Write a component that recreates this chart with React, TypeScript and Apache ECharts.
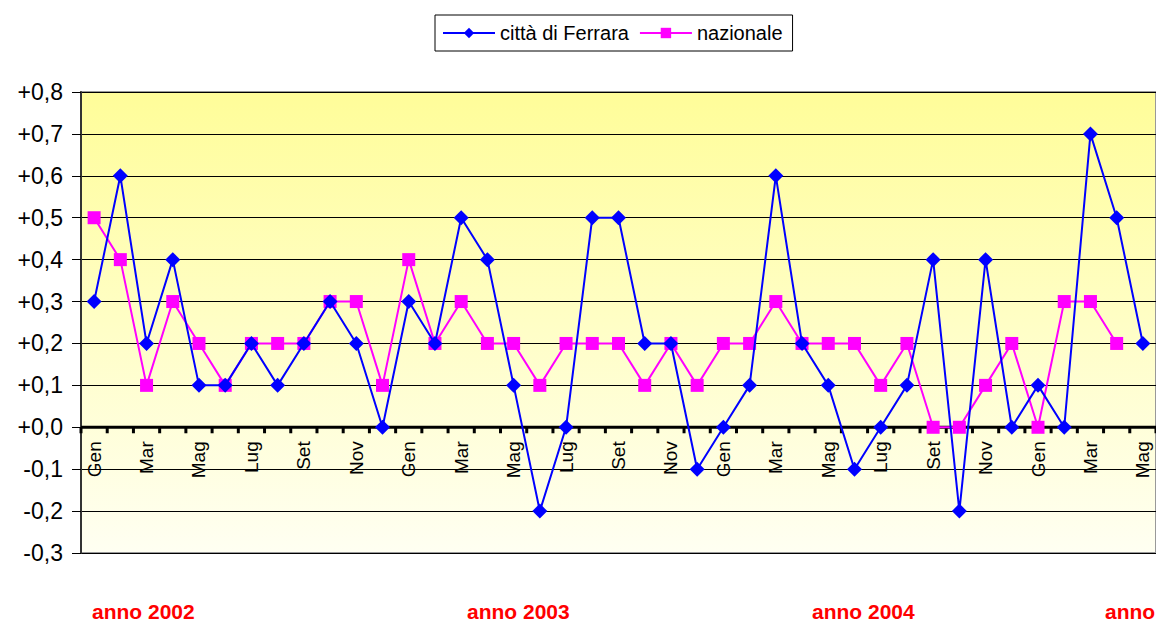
import React, { useEffect, useRef } from "react";
import * as echarts from "echarts";

const MONTHS = ["Gen", "Feb", "Mar", "Apr", "Mag", "Giu", "Lug", "Ago", "Set", "Ott", "Nov", "Dic"];
const YEARS = ["2002", "2003", "2004", "2005"];
const N_POINTS = 41;
const categories: string[] = [];
for (const y of YEARS) for (const m of MONTHS) categories.push(m);
const CATS = categories.slice(0, N_POINTS);

const FERRARA = [
  0.3, 0.6, 0.2, 0.4, 0.1, 0.1, 0.2, 0.1, 0.2, 0.3, 0.2, 0.0,
  0.3, 0.2, 0.5, 0.4, 0.1, -0.2, 0.0, 0.5, 0.5, 0.2, 0.2, -0.1,
  0.0, 0.1, 0.6, 0.2, 0.1, -0.1, 0.0, 0.1, 0.4, -0.2, 0.4, 0.0,
  0.1, 0.0, 0.7, 0.5, 0.2,
];
const NAZIONALE = [
  0.5, 0.4, 0.1, 0.3, 0.2, 0.1, 0.2, 0.2, 0.2, 0.3, 0.3, 0.1,
  0.4, 0.2, 0.3, 0.2, 0.2, 0.1, 0.2, 0.2, 0.2, 0.1, 0.2, 0.1,
  0.2, 0.2, 0.3, 0.2, 0.2, 0.2, 0.1, 0.2, 0.0, 0.0, 0.1, 0.2,
  0.0, 0.3, 0.3, 0.2, null,
];
const YEAR_LABELS = ["anno 2002", "anno 2003", "anno 2004", "anno 2005"];
const Y_MIN = -0.3;
const Y_MAX = 0.8;

const FONT = "Arial, 'Liberation Sans', Helvetica, sans-serif";

export default function App() {
  const ref = useRef<HTMLDivElement>(null);
  useEffect(() => {
    document.body.style.margin = "0";
    if (!ref.current) return;
    const chart = echarts.init(ref.current, null, { renderer: "svg" });
    const fmt = (v: number) => {
      let r = Math.round(v * 10) / 10;
      if (Math.abs(r) < 1e-9) r = 0;
      return (r >= 0 ? "+" : "") + r.toFixed(1).replace(".", ",");
    };
    const H = 623;
    const gridTop = 92;
    const gridBottom = 70;
    const plotH = H - gridTop - gridBottom;
    const zeroFromBottom = gridBottom + (plotH * (0 - Y_MIN)) / (Y_MAX - Y_MIN);
    const yearX = [92, 467, 812, 1105];
    chart.setOption({
      animation: false,
      backgroundColor: "#ffffff",
      textStyle: { fontFamily: FONT },
      legend: {
        left: 435,
        top: 15,
        orient: "horizontal",
        borderColor: "#000",
        borderWidth: 1,
        padding: [8, 10, 8, 7],
        itemGap: 10,
        itemWidth: 52,
        itemHeight: 13,
        textStyle: { fontSize: 20, color: "#000", fontFamily: FONT },
        data: ["città di Ferrara", "nazionale"],
      },
      grid: [
        {
          left: 81,
          right: -6,
          top: gridTop,
          bottom: gridBottom,
          show: true,
          borderColor: "#999999",
          borderWidth: 2,
          backgroundColor: {
            type: "linear",
            x: 0, y: 0, x2: 0, y2: 1,
            colorStops: [
              { offset: 0, color: "#FFFD99" },
              { offset: 1, color: "#FFFFF2" },
            ],
          },
        },
        {
          left: 81,
          right: -6,
          top: gridTop,
          bottom: zeroFromBottom,
          show: false,
        },
      ],
      xAxis: [
        {
          gridIndex: 0,
          type: "category",
          data: CATS,
          boundaryGap: true,
          position: "bottom",
          axisLine: { show: false },
          axisTick: { show: false },
          axisLabel: { show: false },
          splitLine: { show: false },
        },
        {
          gridIndex: 1,
          type: "category",
          data: CATS,
          boundaryGap: true,
          position: "bottom",
          axisLine: { show: false },
          axisTick: { show: false },
          axisLabel: { interval: 1, rotate: 90, fontSize: 19, color: "#000", margin: 14, fontFamily: FONT },
          splitLine: { show: false },
        },
      ],
      yAxis: [
        {
          gridIndex: 0,
          type: "value",
          min: Y_MIN,
          max: Y_MAX,
          interval: 0.1,
          axisLine: { show: true, lineStyle: { color: "#333", width: 2 } },
          axisTick: { show: true, length: 9, lineStyle: { color: "#000", width: 1 } },
          axisLabel: { formatter: fmt, fontSize: 23, color: "#000", margin: 18, fontFamily: FONT },
          splitLine: { show: true, lineStyle: { color: "#000", width: 1 } },
        },
        {
          gridIndex: 1,
          type: "value",
          min: 0,
          max: Y_MAX,
          show: false,
        },
      ],
      series: [
        {
          name: "città di Ferrara",
          type: "line",
          xAxisIndex: 0,
          yAxisIndex: 0,
          data: FERRARA,
          symbol: "diamond",
          symbolSize: 15,
          lineStyle: { color: "#0000FF", width: 2 },
          itemStyle: { color: "#0000FF" },
          z: 6,
        },
        {
          name: "nazionale",
          type: "line",
          xAxisIndex: 0,
          yAxisIndex: 0,
          data: NAZIONALE,
          symbol: "rect",
          symbolSize: 13,
          lineStyle: { color: "#FF00FF", width: 2 },
          itemStyle: { color: "#FF00FF" },
          z: 5,
        },
      ],
    });

    // Zero axis line and boundary ticks, positioned through the chart's own scales
    const y0 = chart.convertToPixel({ yAxisIndex: 0 } as any, 0) as unknown as number;
    const xA = chart.convertToPixel({ xAxisIndex: 0 } as any, 0) as unknown as number;
    const xB = chart.convertToPixel({ xAxisIndex: 0 } as any, 1) as unknown as number;
    const bw = xB - xA;
    const axisEls: any[] = [];
    const st = { stroke: "#000000", lineWidth: 3 };
    if (isFinite(y0) && isFinite(bw)) {
      const firstX = xA - bw / 2;
      const lastX = (chart.convertToPixel({ xAxisIndex: 0 } as any, CATS.length - 1) as unknown as number) + bw / 2;
      axisEls.push({ type: "line", z: 4, silent: true, shape: { x1: firstX, y1: y0, x2: lastX, y2: y0 }, style: st });
      for (let i = 0; i <= CATS.length; i++) {
        const bx = firstX + i * bw;
        axisEls.push({ type: "line", z: 4, silent: true, shape: { x1: bx, y1: y0, x2: bx, y2: y0 + 6 }, style: st });
      }
    }
    const textEls = YEAR_LABELS.map((t, i) => ({
      type: "text",
      left: yearX[i],
      top: 601,
      z: 10,
      style: { text: t, fill: "#FF0000", font: `bold 21px ${FONT}` },
    }));
    chart.setOption({ graphic: [...axisEls, ...textEls] });
    return () => chart.dispose();
  }, []);
  return <div ref={ref} style={{ width: 1156, height: 623, overflow: "hidden" }} />;
}
